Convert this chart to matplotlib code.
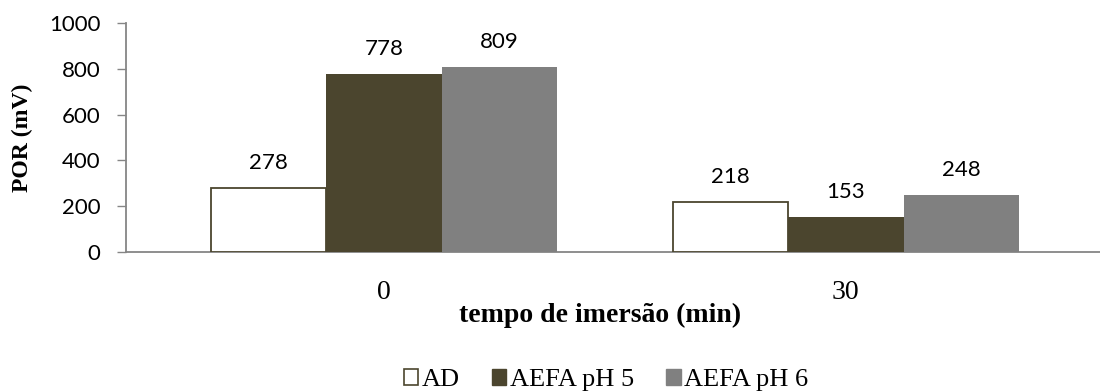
import matplotlib
matplotlib.use("Agg")
import matplotlib.pyplot as plt
import numpy as np
from matplotlib.patches import Patch

categories = ["0", "30"]
series_names = ["AD", "AEFA pH 5", "AEFA pH 6"]
ad = [278, 218]
aefa5 = [778, 153]
aefa6 = [809, 248]
yticks = [0, 200, 400, 600, 800, 1000]

fig = plt.figure(figsize=(11, 3.92), dpi=100)
ax = fig.add_axes([0.1145, 0.357, 0.8855, 0.584])

x = np.arange(len(categories))
w = 0.25
olive = "#4B452E"
styles = [dict(facecolor="white", edgecolor=olive, linewidth=1.3),
          dict(facecolor=olive, edgecolor=olive, linewidth=0),
          dict(facecolor="#808080", edgecolor="#808080", linewidth=0)]
for i, (vals, st) in enumerate(zip([ad, aefa5, aefa6], styles)):
    pos = x + (i - 1) * w
    ax.bar(pos, vals, width=w, **st, zorder=3)
    for p, v in zip(pos, vals):
        ax.annotate(str(v), (p, v), xytext=(0, 11), textcoords="offset points",
                    ha="center", va="bottom", fontsize=16, family="Lato",
                    color="black")

ax.set_xlim(-0.558, 1.55)
ax.set_ylim(0, 1000)
ax.set_yticks(yticks)
ax.set_yticklabels([str(t) for t in yticks], fontsize=16, family="Lato")
ax.set_xticks(x)
ax.set_xticklabels(categories, fontsize=20, family="Liberation Serif")
ax.tick_params(axis="x", length=0, pad=20)
ax.tick_params(axis="y", length=6.5, width=1, color="#868686", pad=12)
for s in ["top", "right"]:
    ax.spines[s].set_visible(False)
for s in ["left", "bottom"]:
    ax.spines[s].set_color("#868686")
    ax.spines[s].set_linewidth(1.3)

ax.set_ylabel("POR (mV)", fontsize=17, family="Liberation Serif",
              fontweight="bold")
ax.yaxis.set_label_coords(-0.0955, 0.5)
fig.text(600 / 1100, 1 - 322 / 392, "tempo de imersão (min)", fontsize=20,
         family="Liberation Serif", fontweight="bold", ha="center", va="baseline")

handles = [Patch(facecolor="white", edgecolor=olive, linewidth=1.2),
           Patch(facecolor=olive, edgecolor=olive),
           Patch(facecolor="#808080", edgecolor="#808080")]
fig.legend(handles, series_names, loc="center", bbox_to_anchor=(0.551, 0.03),
           ncol=3, frameon=False, prop={"family": "Liberation Serif", "size": 19},
           handlelength=0.55, handleheight=0.55, handletextpad=0.15,
           columnspacing=1.2)

fig.savefig("out.png", dpi=100)
